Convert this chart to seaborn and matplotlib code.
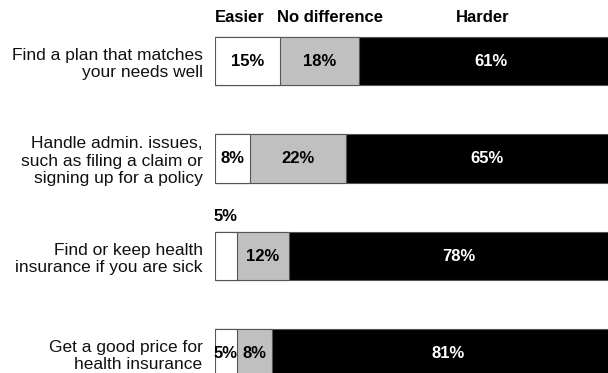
import matplotlib
matplotlib.use("Agg")
import matplotlib.pyplot as plt
import seaborn as sns
import pandas as pd

# Survey rows and the share of answers per response
categories = [
    "Find a plan that matches\nyour needs well",
    "Handle admin. issues,\nsuch as filing a claim or\nsigning up for a policy",
    "Find or keep health\ninsurance if you are sick",
    "Get a good price for\nhealth insurance",
]
easier = [15, 8, 5, 5]
no_difference = [18, 22, 12, 8]
harder = [61, 65, 78, 81]
headers = ["Easier", "No difference", "Harder"]

# the "Easier" value of this row is printed above its bar
easier_label_above = [False, False, True, False]

sns.set_theme(style="white")
plt.rcParams["font.family"] = ["Liberation Sans", "DejaVu Sans"]

df = pd.DataFrame({
    "category": categories,
    "easier": easier,
    "no_difference": no_difference,
    "harder": harder,
})
df["upto_nodiff"] = df["easier"] + df["no_difference"]
df["upto_harder"] = df["upto_nodiff"] + df["harder"]

fig = plt.figure(figsize=(6.08, 3.73), dpi=100)
ax = fig.add_axes([215 / 608, 0, 393 / 608, 1])

# stacked bars drawn as overlapping cumulative layers, longest first
layers = [("upto_harder", "black"), ("upto_nodiff", "#c0c0c0"), ("easier", "white")]
for col, color in layers:
    sns.barplot(data=df, x=col, y="category", orient="h", color=color,
                saturation=1, edgecolor="#555555", linewidth=0.8,
                width=0.5, ax=ax)

ax.set_xlim(0, 90.3)
ax.set_ylim(3.2, -0.626)
ax.set_xlabel("")
ax.set_ylabel("")
ax.set_xticks([])
for side in ax.spines.values():
    side.set_visible(False)
ax.tick_params(axis="y", length=0, pad=9, labelsize=12.5)
for lbl in ax.get_yticklabels():
    lbl.set_color("#111111")

# value labels in each segment
for i in range(len(categories)):
    segs = [
        (0, easier[i], "black"),
        (easier[i], no_difference[i], "black"),
        (easier[i] + no_difference[i], harder[i], "white"),
    ]
    for k, (left, width, tcolor) in enumerate(segs):
        y = i
        if k == 0 and easier_label_above[i]:
            y = i - 0.405
        ax.text(left + width / 2, y, f"{width}%", ha="center", va="center",
                fontsize=12, fontweight="bold", color=tcolor)

# column headers above the first bar
header_x = [0, 26.4, 61.4]
header_ha = ["left", "center", "center"]
for text, x, ha in zip(headers, header_x, header_ha):
    ax.text(x, -0.446, text, ha=ha, va="center", fontsize=12,
            fontweight="bold", color="black")

fig.savefig("out.png", dpi=100)
